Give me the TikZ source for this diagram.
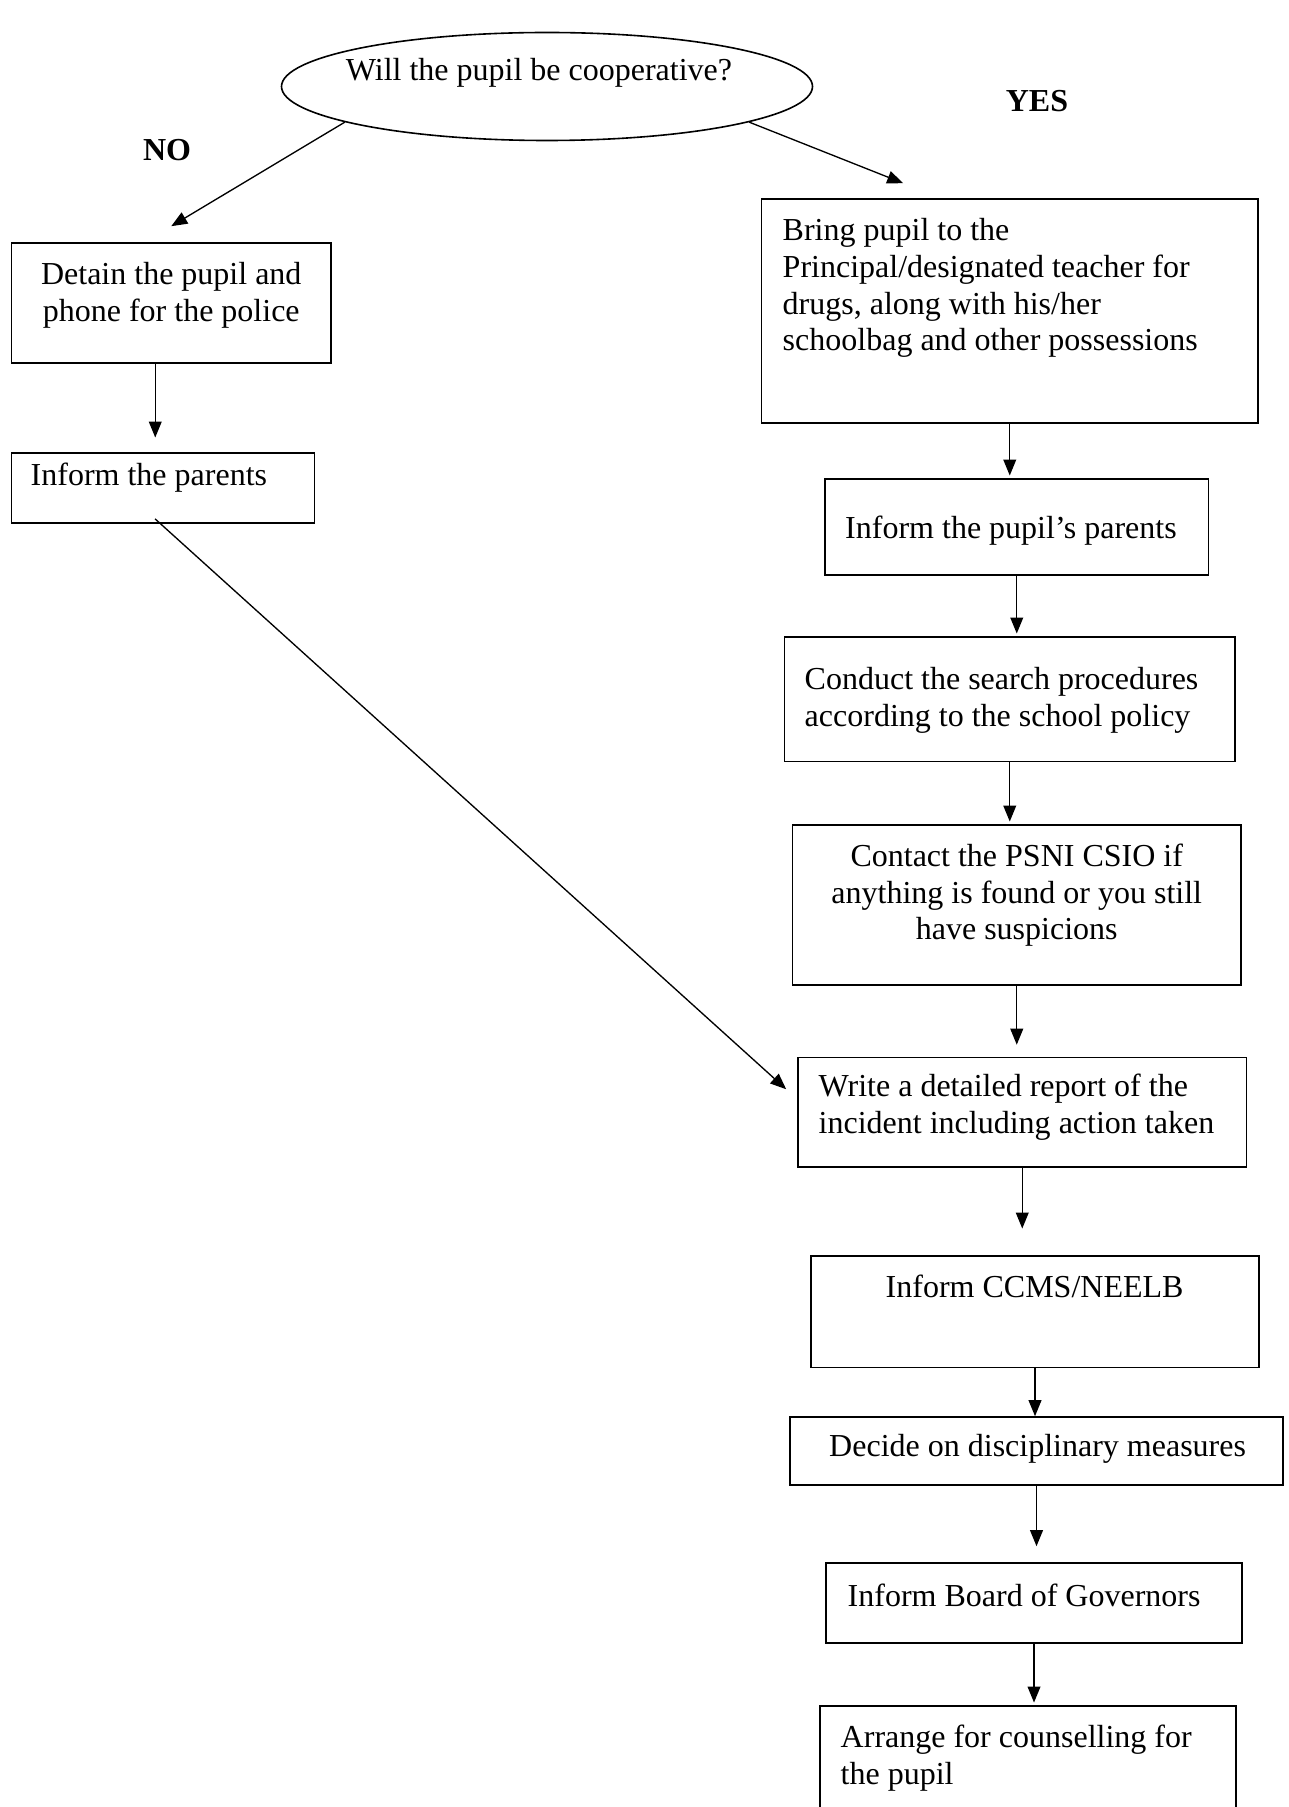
\documentclass[tikz,border=0pt]{standalone}
\usepackage{fontspec}
\setmainfont{Liberation Serif}
\usetikzlibrary{arrows.meta,positioning,calc,shapes.geometric}
\newcommand{\px}{0.375pt}
\tikzset{
  stepbox/.style={draw=black, line width=.6pt, inner sep=0pt},
  question/.style={draw=black, ellipse, line width=.6pt, inner sep=0pt},
  steptext/.style={inner sep=0pt, align=left, font=\fontsize{12}{13.8}\selectfont},
  answer/.style={inner sep=0pt, font=\fontsize{12}{13.8}\selectfont\bfseries},
  flow/.style={-{Triangle[length=6pt,width=4.8pt]}, line width=.5pt}
}
\newcommand{\flowdown}[3][1pt]{\draw[flow, shorten >=#1] (#2.south) -- (#2.south |- #3.north);}

\begin{document}
\begin{tikzpicture}[x=\px, y=-\px]
  \useasboundingbox (0,0) rectangle (1288,1807);

  % question
  \node[question, minimum width=531*\px, minimum height=108*\px] (q) at (547,86.5) {};
  \node[steptext, anchor=north] (qtxt) at ($(q.north)+(-8,26)$) {Will the pupil be cooperative?};
  \node[answer] (yes) at (1037,101) {YES};
  \node[answer] (no) at (167,150) {NO};

  % NO branch
  \node[stepbox, minimum width=319.5*\px, minimum height=120*\px] (detain) at (171.25,303) {};
  \node[steptext, align=center, anchor=north] (detaintxt) at ($(detain.north)+(0,19.5)$)
    {Detain the pupil and\\phone for the police};
  \node[stepbox, minimum width=303*\px, minimum height=70*\px] (parents) at (163,488) {};
  \node[steptext, anchor=north west] (parentstxt) at ($(parents.north west)+(19.5,10)$)
    {Inform the parents};

  % YES branch
  \node[stepbox, minimum width=496.5*\px, minimum height=224*\px] (bring) at (1009.75,311) {};
  \node[steptext, anchor=north west] (bringtxt) at ($(bring.north west)+(21.5,19.5)$)
    {Bring pupil to the\\Principal/designated teacher for\\drugs, along with his/her\\schoolbag and other possessions};
  \node[stepbox, minimum width=383.5*\px, minimum height=96*\px] (pparents) at (1016.75,527) {};
  \node[steptext, anchor=north west] (pparentstxt) at ($(pparents.north west)+(20.5,37)$)
    {Inform the pupil’s parents};
  \node[stepbox, minimum width=450.5*\px, minimum height=124.5*\px] (conduct) at (1009.75,699.25) {};
  \node[steptext, anchor=north west] (conducttxt) at ($(conduct.north west)+(20.5,31)$)
    {Conduct the search procedures\\according to the school policy};
  \node[stepbox, minimum width=448.5*\px, minimum height=160*\px] (contact) at (1016.75,905) {};
  \node[steptext, align=center, anchor=north] (contacttxt) at ($(contact.north)+(0,19)$)
    {Contact the PSNI CSIO if\\anything is found or you still\\have suspicions};
  \node[stepbox, minimum width=448.5*\px, minimum height=109.5*\px] (write) at (1022.25,1112.25) {};
  \node[steptext, anchor=north west] (writetxt) at ($(write.north west)+(21,16.5)$)
    {Write a detailed report of the\\incident including action taken};
  \node[stepbox, minimum width=448*\px, minimum height=111.5*\px] (ccms) at (1035,1311.75) {};
  \node[steptext, anchor=north west] (ccmstxt) at ($(ccms.north west)+(75,19)$)
    {Inform CCMS/NEELB};
  \node[stepbox, minimum width=493*\px, minimum height=68*\px] (decide) at (1036.5,1451) {};
  \node[steptext, anchor=north west] (decidetxt) at ($(decide.north west)+(39.5,17.5)$)
    {Decide on disciplinary measures};
  \node[stepbox, minimum width=416*\px, minimum height=80*\px] (board) at (1034,1603) {};
  \node[steptext, anchor=north west] (boardtxt) at ($(board.north west)+(22,21)$)
    {Inform Board of Governors};
  \node[stepbox, minimum width=416*\px, minimum height=124*\px] (arrange) at (1028,1768) {};
  \node[steptext, anchor=north west] (arrangetxt) at ($(arrange.north west)+(21,19.5)$)
    {Arrange for counselling for\\the pupil};

  % connectors
  \draw[flow] (q.190) -- ($(detain.north)+(0,-16)$);
  \draw[flow] (q.350) -- ($(bring.north west)+(142.5,-15)$);
  \draw[flow, shorten >=5.5pt] ([xshift=-6pt]detain.south) -- ([xshift=-6pt]detain.south |- parents.north);
  \draw[flow] ($(parents.south)+(-8,-5)$) -- ($(write.west)+(-11,-23)$);
  \flowdown{bring}{pparents}
  \flowdown{pparents}{conduct}
  \flowdown{conduct}{contact}
  \flowdown[4.5pt]{contact}{write}
  \flowdown[10pt]{write}{ccms}
  \flowdown[0pt]{ccms}{decide}
  \flowdown[6pt]{decide}{board}
  \flowdown{board}{arrange}
\end{tikzpicture}
\end{document}
